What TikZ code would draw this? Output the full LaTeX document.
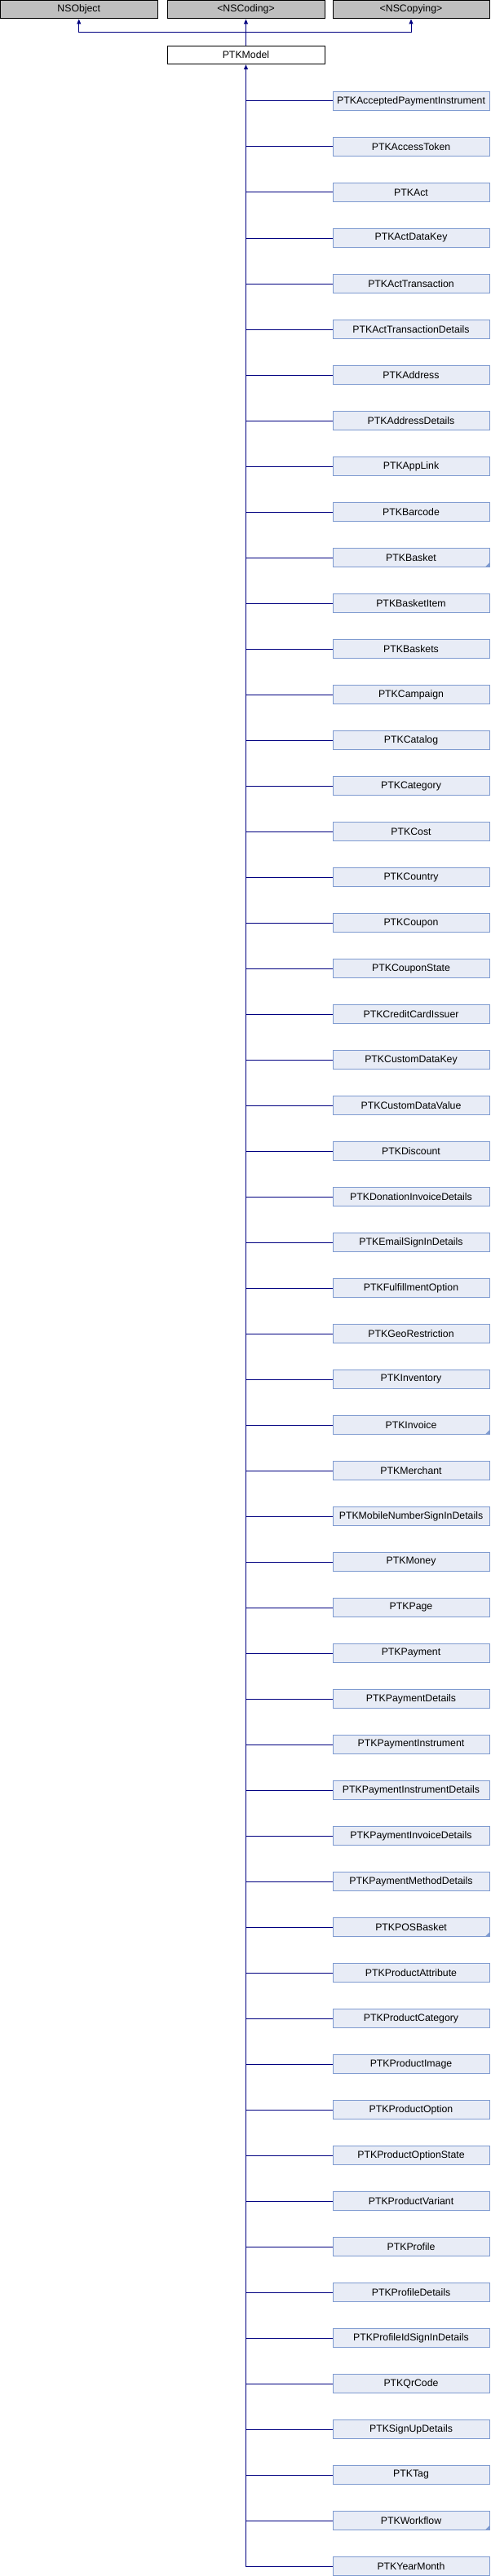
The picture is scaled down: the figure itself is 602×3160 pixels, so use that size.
\documentclass[tikz,border=0pt]{standalone}
\usepackage{fontspec}
\setmainfont{Liberation Sans}
\usetikzlibrary{arrows.meta}
\definecolor{edgeblue}{HTML}{000080}
\definecolor{parentfill}{HTML}{BFBFBF}
\definecolor{childfill}{HTML}{E8ECF6}
\definecolor{childborder}{HTML}{7F9BD0}
\tikzset{
  box/.style={draw=black, line width=1pt, inner sep=0pt, minimum height=22.5pt,
    font=\fontsize{12.3}{14}\selectfont, text=black},
  parentbox/.style={box, fill=parentfill},
  modelbox/.style={box, fill=white, minimum width=193pt},
  childbox/.style={box, draw=childborder, fill=childfill, minimum width=192pt, minimum height=22.5pt},
  conn/.style={draw=edgeblue, line width=1pt},
  upconn/.style={conn, -{Triangle[length=6pt,width=5pt]}},
}
\begin{document}
\begin{tikzpicture}[x=1pt,y=-1pt]
\useasboundingbox (0,0) rectangle (602,3160);
\node[parentbox, minimum width=192.5pt] (nsobject) at (96.75,11.75) {NSObject};
\node[parentbox, minimum width=193pt] (nscoding) at (301.5,11.75) {<NSCoding>};
\node[parentbox, minimum width=192pt] (nscopying) at (504,11.75) {<NSCopying>};
\node[modelbox] (model) at (301.5,67.5) {PTKModel};
\coordinate (hub) at (301.5,40);
\draw[conn] (model.north) -- (hub);
\draw[upconn] (hub) -| (nsobject.south);
\draw[upconn] (hub) -- (nscoding.south);
\draw[upconn] (hub) -| (nscopying.south);
\foreach \n [count=\i from 0] in {PTKAcceptedPaymentInstrument,PTKAccessToken,PTKAct,PTKActDataKey,PTKActTransaction,PTKActTransactionDetails,PTKAddress,PTKAddressDetails,PTKAppLink,PTKBarcode,PTKBasket,PTKBasketItem,PTKBaskets,PTKCampaign,PTKCatalog,PTKCategory,PTKCost,PTKCountry,PTKCoupon,PTKCouponState,PTKCreditCardIssuer,PTKCustomDataKey,PTKCustomDataValue,PTKDiscount,PTKDonationInvoiceDetails,PTKEmailSignInDetails,PTKFulfillmentOption,PTKGeoRestriction,PTKInventory,PTKInvoice,PTKMerchant,PTKMobileNumberSignInDetails,PTKMoney,PTKPage,PTKPayment,PTKPaymentDetails,PTKPaymentInstrument,PTKPaymentInstrumentDetails,PTKPaymentInvoiceDetails,PTKPaymentMethodDetails,PTKPOSBasket,PTKProductAttribute,PTKProductCategory,PTKProductImage,PTKProductOption,PTKProductOptionState,PTKProductVariant,PTKProfile,PTKProfileDetails,PTKProfileIdSignInDetails,PTKQrCode,PTKSignUpDetails,PTKTag,PTKWorkflow,PTKYearMonth} {
  \node[childbox] (c\i) at (504,{124+56*\i}) {\n};
  \draw[conn] (c\i.west) -- (c\i.west -| model.south);
}
\draw[upconn] (c54.west) -| (model.south);
\foreach \i in {10,29,40,53} {
  \fill[childborder] ([xshift=-0.5pt,yshift=0.5pt]c\i.south east) -- ++(-5,0) -- ++(5,-5) -- cycle;
}
\end{tikzpicture}
\end{document}
